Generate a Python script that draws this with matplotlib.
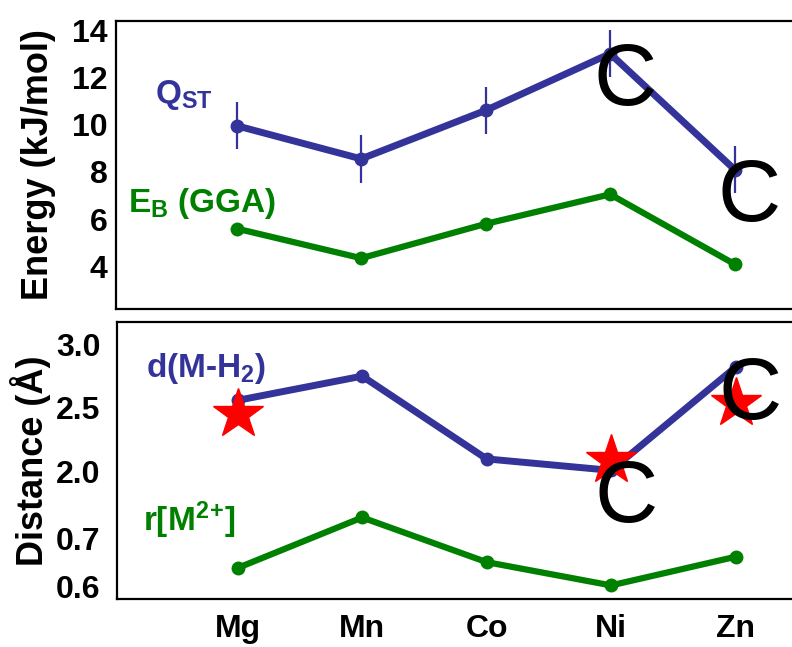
import numpy as np
import matplotlib
matplotlib.use("Agg")
import matplotlib.pyplot as plt

# metals along the x axis
metals = ["Mg", "Mn", "Co", "Ni", "Zn"]

# top panel: energies (kJ/mol)
q_st = [9.95, 8.55, 10.6, 13.0, 8.1]
q_st_err = [1.0, 1.0, 1.0, 1.0, 1.0]
e_b_gga = [5.6, 4.35, 5.8, 7.05, 4.1]

# bottom panel: distances (angstrom)
d_m_h2 = [2.56, 2.75, 2.10, 2.01, 2.82]
star_metals = ["Mg", "Ni", "Zn"]
d_star = [2.45, 2.095, 2.54]
r_m2 = [0.639, 0.743, 0.651, 0.603, 0.662]

# points marked with a "C"
c_top = ["Ni", "Zn"]
c_bottom = ["Ni", "Zn"]

plt.rcParams["font.family"] = ["Liberation Sans", "DejaVu Sans"]
plt.rcParams["font.weight"] = "bold"
plt.rcParams["mathtext.fontset"] = "custom"
plt.rcParams["mathtext.rm"] = "Liberation Sans:bold"
plt.rcParams["mathtext.bf"] = "Liberation Sans:bold"
plt.rcParams["mathtext.default"] = "bf"

BLUE = "#333399"
GREEN = "#008000"

x = np.arange(len(metals))
idx = {m: i for i, m in enumerate(metals)}

fig = plt.figure(figsize=(7.92, 6.47), dpi=100)
ax1 = fig.add_axes([0.1465, 0.5224, 0.88, 0.4451])
ax2 = fig.add_axes([0.1477, 0.0742, 0.88, 0.4281])

# top panel
ax1.errorbar(x, q_st, yerr=q_st_err, color=BLUE, lw=5, marker="o", ms=9,
             elinewidth=1.6, capsize=0, zorder=3)
ax1.plot(x, e_b_gga, color=GREEN, lw=4.5, marker="o", ms=9, zorder=3)
ax1.set_ylim(2.2, 14.38)
ax1.set_yticks([4, 6, 8, 10, 12, 14])
ax1.set_ylabel("Energy (kJ/mol)", fontsize=26, fontweight="bold")
ax1.yaxis.set_label_coords(-0.086, 0.5)
ax1.text(-0.66, 10.9, r"Q$_{\mathbf{ST}}$", color=BLUE, fontsize=24, va="baseline")
ax1.text(-0.875, 6.31, r"E$_{\mathbf{B}}$ (GGA)", color=GREEN, fontsize=24, va="baseline")
for m in c_top:
    ax1.annotate("C", (idx[m], q_st[idx[m]]), xytext=(-12, -37),
                 textcoords="offset points", fontsize=63, fontweight="normal",
                 ha="left", va="baseline", zorder=4)

# bottom panel, piecewise axis: fine scale below 0.8, compressed gap, coarse above 2.0
v_pts = [0.5, 0.8, 2.0, 3.5]
u_pts = [-48, 96, 114, 303]


def fwd(v):
    return np.interp(v, v_pts, u_pts)


def inv(u):
    return np.interp(u, u_pts, v_pts)


ax2.set_yscale("function", functions=(fwd, inv))
ax2.plot(x, d_m_h2, color=BLUE, lw=5, marker="o", ms=9, zorder=3)
ax2.plot(x, r_m2, color=GREEN, lw=4.5, marker="o", ms=9, zorder=3)
ax2.plot([idx[m] for m in star_metals], d_star, ls="none", marker="*",
         ms=38, color="red", mec="red", zorder=5)
ax2.set_ylim(0.575, 3.175)
ax2.set_yticks([0.6, 0.7, 2.0, 2.5, 3.0])
ax2.set_yticklabels(["0.6", "0.7", "2.0", "2.5", "3.0"])
ax2.set_ylabel("Distance (Å)", fontsize=26, fontweight="bold")
ax2.yaxis.set_label_coords(-0.094, 0.5)
ax2.text(-0.74, 2.74, r"d(M-H$_{\mathbf{2}}$)", color=BLUE, fontsize=24, va="baseline")
ax2.text(-0.76, 0.715, r"r[M$^{\mathbf{2\!+\!}}$]", color=GREEN, fontsize=24, va="baseline")
for m in c_bottom:
    ax2.annotate("C", (idx[m], d_m_h2[idx[m]]), xytext=(-12, -37),
                 textcoords="offset points", fontsize=63, fontweight="normal",
                 ha="left", va="baseline", zorder=6)

for ax in (ax1, ax2):
    ax.set_xlim(-0.97, 4.63)
    for s in ax.spines.values():
        s.set_linewidth(1.6)
    ax.tick_params(length=0, labelsize=23)

ax1.set_xticks([])
ax1.tick_params(axis="y", pad=6)
ax2.set_xticks(x)
ax2.set_xticklabels(metals)
ax2.tick_params(axis="y", pad=12)
ax2.tick_params(axis="x", pad=11)

fig.savefig("out.png", dpi=100)
